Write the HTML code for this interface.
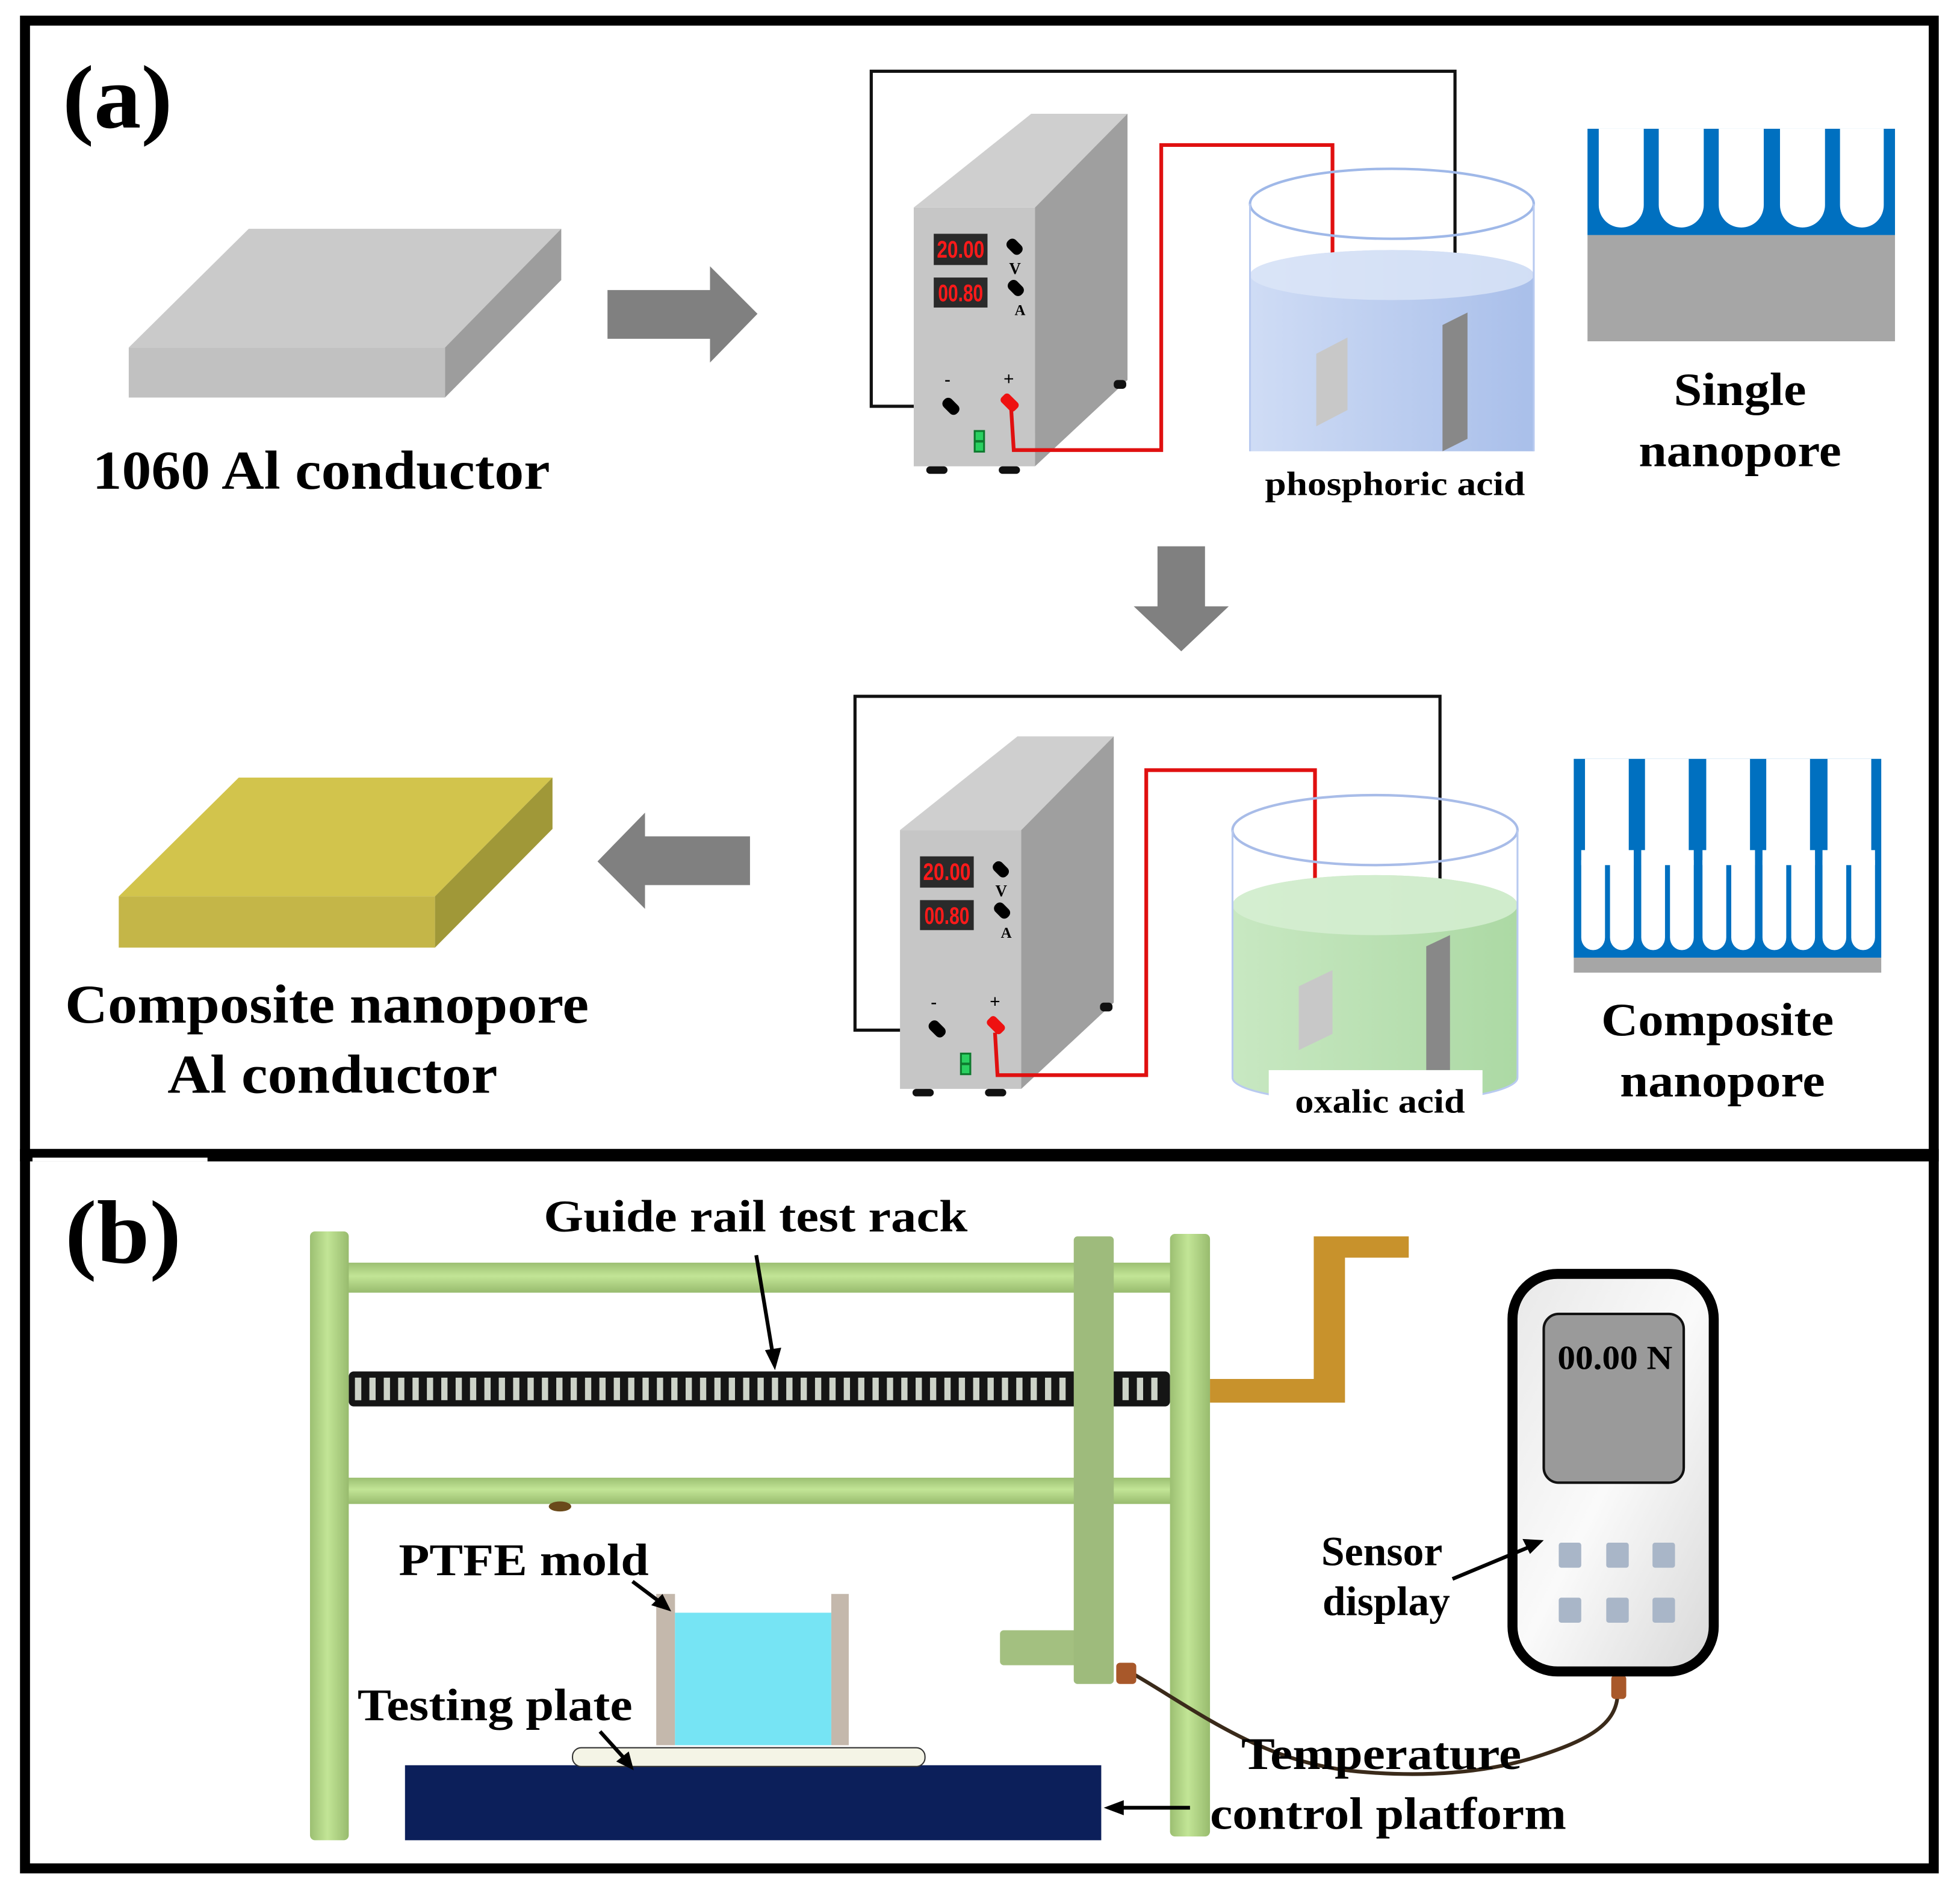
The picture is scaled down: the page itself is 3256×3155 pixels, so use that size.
<!DOCTYPE html>
<html><head><meta charset="utf-8"><style>
html,body{margin:0;padding:0;background:#fff}
svg{display:block}
text{font-family:"Liberation Serif",serif;font-weight:bold;fill:#000}
</style></head><body>
<svg width="3256" height="3155" viewBox="0 0 1568 1519" preserveAspectRatio="none" xmlns="http://www.w3.org/2000/svg">
<defs>
<linearGradient id="pv" x1="0" x2="1" y1="0" y2="0"><stop offset="0" stop-color="#9cbf72"/><stop offset="0.45" stop-color="#c2e596"/><stop offset="1" stop-color="#98bb6e"/></linearGradient>
<linearGradient id="ph" x1="0" x2="0" y1="0" y2="1"><stop offset="0" stop-color="#9cbf72"/><stop offset="0.45" stop-color="#c2e596"/><stop offset="1" stop-color="#98bb6e"/></linearGradient>
<linearGradient id="blue" x1="0" x2="1"><stop offset="0" stop-color="#cfdcf5"/><stop offset="1" stop-color="#a9bfea"/></linearGradient>
<linearGradient id="green" x1="0" x2="1"><stop offset="0" stop-color="#c8e8c2"/><stop offset="1" stop-color="#acd9a4"/></linearGradient>
<linearGradient id="dev" x1="0" x2="1" y1="0" y2="1"><stop offset="0" stop-color="#e8e8e8"/><stop offset="0.5" stop-color="#fafafa"/><stop offset="1" stop-color="#d8d8d8"/></linearGradient>
<g id="psu">
<polygon points="0,0 97,0 171,-75 94,-75" fill="#cfcfcf"/>
<rect x="0" y="0" width="97" height="207" fill="#c6c6c6"/>
<polygon points="97,0 171,-75 171,138 97,207" fill="#9f9f9f"/>
<rect x="16" y="21" width="43" height="25" fill="#2a2a2a"/>
<text x="37.5" y="40" font-size="19" text-anchor="middle" style="fill:#ff1a1a;font-family:'Liberation Sans Narrow','Liberation Sans',sans-serif" textLength="38" lengthAdjust="spacingAndGlyphs">20.00</text>
<rect x="16" y="56" width="43" height="24" fill="#2a2a2a"/>
<text x="37.5" y="75" font-size="19" text-anchor="middle" style="fill:#ff1a1a;font-family:'Liberation Sans Narrow','Liberation Sans',sans-serif" textLength="36" lengthAdjust="spacingAndGlyphs">00.80</text>
<rect x="74" y="27" width="14" height="9" rx="4" transform="rotate(45 81 31)" fill="#000"/>
<rect x="75" y="60" width="14" height="9" rx="4" transform="rotate(45 82 64)" fill="#000"/>
<text x="81" y="53" font-size="13" text-anchor="middle">V</text>
<text x="85" y="86" font-size="12" text-anchor="middle">A</text>
<text x="27" y="142" font-size="14" text-anchor="middle">-</text>
<text x="76" y="142" font-size="15" text-anchor="middle">+</text>
<rect x="22" y="154" width="15" height="9" rx="4" transform="rotate(45 29 159)" fill="#000"/>
<rect x="69" y="151" width="15" height="9" rx="3" transform="rotate(45 76 156)" fill="#ee1111"/>
<rect x="48" y="178" width="9" height="18" fill="#0e7a2e"/>
<rect x="49.5" y="179.5" width="6" height="6.5" fill="#2ad060"/>
<rect x="49.5" y="188" width="6" height="6.5" fill="#2ad060"/>
<rect x="10" y="207" width="17" height="6" rx="3" fill="#111"/>
<rect x="68" y="207" width="17" height="6" rx="3" fill="#111"/>
<rect x="160" y="138" width="10" height="7" rx="3" fill="#111"/>
</g>
</defs>
<rect width="1568" height="1519" fill="#fff"/>

<!-- frame -->
<rect x="20" y="16.5" width="1527" height="1478" fill="none" stroke="#000" stroke-width="8"/>
<rect x="16" y="919" width="1535" height="10" fill="#000"/>
<rect x="26" y="926" width="140" height="3" fill="#fff"/>

<!-- (a) -->
<text x="50" y="102" font-size="72" textLength="88" lengthAdjust="spacingAndGlyphs">(a)</text>

<!-- gray block -->
<polygon points="103,278 356,278 449,183 199,183" fill="#cacaca"/>
<rect x="103" y="278" width="253" height="40" fill="#c1c1c1"/>
<polygon points="356,278 449,183 449,224 356,318" fill="#9d9d9d"/>
<text x="74" y="391" font-size="44" textLength="366" lengthAdjust="spacingAndGlyphs">1060 Al conductor</text>

<!-- right arrow -->
<polygon points="486,232 568,232 568,213 606,251 568,290 568,271 486,271" fill="#808080"/>

<!-- circuit 1 -->
<polyline points="760,325 697,325 697,57 1164,57 1164,258" fill="none" stroke="#111" stroke-width="2.5"/>
<use href="#psu" x="731" y="166"/>
<polyline points="809,328 811,360 929,360 929,116 1066,116 1066,276" fill="none" stroke="#e01010" stroke-width="3"/>
<rect x="1000" y="163" width="227" height="198" fill="none"/>
<path d="M1000,220 A113.5,20 0 0 1 1227,220 V361 H1000 Z" fill="url(#blue)"/>
<ellipse cx="1113.5" cy="220" rx="113.5" ry="20" fill="#dce6f8" opacity="0.8"/>
<ellipse cx="1113.5" cy="163" rx="113.5" ry="28" fill="none" stroke="#9fb8e8" stroke-width="2"/>
<line x1="1000" y1="163" x2="1000" y2="361" stroke="#b8caf0" stroke-width="1.5"/>
<line x1="1227" y1="163" x2="1227" y2="361" stroke="#b8caf0" stroke-width="1.5"/>
<polygon points="1053,283 1078,270 1078,328 1053,341" fill="#c8c8c8"/>
<polygon points="1154,260 1174,250 1174,351 1154,361" fill="#888"/>
<text x="1116" y="396" font-size="27" text-anchor="middle" textLength="208" lengthAdjust="spacingAndGlyphs">phosphoric acid</text>

<!-- single nanopore -->
<rect x="1270" y="103" width="246" height="85" fill="#0070c0"/>
<rect x="1270" y="188" width="246" height="85" fill="#a6a6a6"/>
<g fill="#fff">
<path d="M1279,103 V164 A18,18 0 0 0 1315,164 V103 Z"/>
<path d="M1327,103 V164 A18,18 0 0 0 1363,164 V103 Z"/>
<path d="M1375,103 V164 A18,18 0 0 0 1411,164 V103 Z"/>
<path d="M1424,103 V164 A18,18 0 0 0 1460,164 V103 Z"/>
<path d="M1472,103 V164 A17.5,18 0 0 0 1507,164 V103 Z"/>
</g>
<text x="1392" y="324" font-size="37" text-anchor="middle" textLength="106" lengthAdjust="spacingAndGlyphs">Single</text>
<text x="1392" y="373" font-size="37" text-anchor="middle" textLength="162" lengthAdjust="spacingAndGlyphs">nanopore</text>

<!-- down arrow -->
<polygon points="926,437 964,437 964,485 983,485 945,521 907,485 926,485" fill="#808080"/>

<!-- gold block -->
<polygon points="95,717 348,717 442,622 191,622" fill="#d2c44c"/>
<rect x="95" y="717" width="253" height="41" fill="#c4b648"/>
<polygon points="348,717 442,622 442,663 348,758" fill="#a09838"/>
<text x="52" y="818" font-size="44" textLength="419" lengthAdjust="spacingAndGlyphs">Composite nanopore</text>
<text x="134" y="874" font-size="44" textLength="264" lengthAdjust="spacingAndGlyphs">Al conductor</text>

<!-- left arrow -->
<polygon points="600,669 516,669 516,650 478,689 516,727 516,708 600,708" fill="#808080"/>

<!-- circuit 2 -->
<polyline points="748,824 684,824 684,557 1152,557 1152,755" fill="none" stroke="#111" stroke-width="2.5"/>
<use href="#psu" x="720" y="664"/>
<polyline points="796,826 798,860 917,860 917,616 1052,616 1052,776" fill="none" stroke="#e01010" stroke-width="3"/>
<path d="M986,724 A114,24 0 0 1 1214,724 V862 A114,20 0 0 1 986,862 Z" fill="url(#green)"/>
<ellipse cx="1100" cy="724" rx="114" ry="24" fill="#d6eed2" opacity="0.85"/>
<ellipse cx="1100" cy="664" rx="114" ry="28" fill="none" stroke="#a8bce8" stroke-width="2"/>
<line x1="986" y1="664" x2="986" y2="862" stroke="#b8caf0" stroke-width="1.5"/>
<line x1="1214" y1="664" x2="1214" y2="862" stroke="#b8caf0" stroke-width="1.5"/>
<path d="M986,862 A114,20 0 0 0 1214,862" fill="none" stroke="#b8caf0" stroke-width="1.5"/>
<polygon points="1039,789 1066,776 1066,827 1039,840" fill="#c8c8c8"/>
<polygon points="1141,757 1160,748 1160,856 1141,856" fill="#888"/>
<rect x="1015" y="856" width="171" height="36" fill="#fff"/>
<text x="1104" y="890" font-size="27" text-anchor="middle" textLength="136" lengthAdjust="spacingAndGlyphs">oxalic acid</text>

<!-- composite nanopore -->
<rect x="1259" y="607" width="246" height="159" fill="#0070c0"/>
<rect x="1259" y="766" width="246" height="12" fill="#a6a6a6"/>
<g fill="#fff">
<rect x="1268" y="607" width="35" height="78"/>
<rect x="1316" y="607" width="35" height="78"/>
<rect x="1365" y="607" width="35" height="78"/>
<rect x="1413" y="607" width="35" height="78"/>
<rect x="1462" y="607" width="35" height="78"/>
<!-- chambers -->
<rect x="1265" y="680" width="42" height="12"/>
<rect x="1313" y="680" width="42" height="12"/>
<rect x="1362" y="680" width="42" height="12"/>
<rect x="1410" y="680" width="42" height="12"/>
<rect x="1458" y="680" width="42" height="12"/>
<!-- lower pores -->
<path d="M1265,688 V750 A9.5,10 0 0 0 1284,750 V688 Z"/>
<path d="M1288,688 V750 A9.5,10 0 0 0 1307,750 V688 Z"/>
<path d="M1313,688 V750 A9.5,10 0 0 0 1332,750 V688 Z"/>
<path d="M1336,688 V750 A9.5,10 0 0 0 1355,750 V688 Z"/>
<path d="M1362,688 V750 A9.5,10 0 0 0 1381,750 V688 Z"/>
<path d="M1385,688 V750 A9.5,10 0 0 0 1404,750 V688 Z"/>
<path d="M1410,688 V750 A9.5,10 0 0 0 1429,750 V688 Z"/>
<path d="M1433,688 V750 A9.5,10 0 0 0 1452,750 V688 Z"/>
<path d="M1458,688 V750 A9.5,10 0 0 0 1477,750 V688 Z"/>
<path d="M1481,688 V750 A9.5,10 0 0 0 1500,750 V688 Z"/>
</g>
<text x="1374" y="828" font-size="37" text-anchor="middle" textLength="186" lengthAdjust="spacingAndGlyphs">Composite</text>
<text x="1378" y="877" font-size="37" text-anchor="middle" textLength="164" lengthAdjust="spacingAndGlyphs">nanopore</text>

<!-- (b) -->
<text x="52" y="1010" font-size="72" textLength="93" lengthAdjust="spacingAndGlyphs">(b)</text>
<text x="435" y="985" font-size="36" textLength="339" lengthAdjust="spacingAndGlyphs">Guide rail test rack</text>

<!-- rails -->
<rect x="276" y="1010" width="664" height="24" fill="url(#ph)"/>
<rect x="276" y="1182" width="664" height="21" fill="url(#ph)"/>
<ellipse cx="448" cy="1205" rx="9" ry="4" fill="#6a4a1a"/>
<!-- screw rod -->
<rect x="279" y="1097" width="657" height="28" rx="4" fill="#151515"/>
<g fill="#d0d6cc">
<path d="M284,1102 h5 v18 h-5 z" id="t0"/>
</g>
<g id="teeth" fill="#cdd3c8"></g>
<path fill="#cdd3c8" d="
M284,1102h5v18h-5z M295.5,1102h5v18h-5z M307,1102h5v18h-5z M318.5,1102h5v18h-5z M330,1102h5v18h-5z M341.5,1102h5v18h-5z M353,1102h5v18h-5z M364.5,1102h5v18h-5z M376,1102h5v18h-5z M387.5,1102h5v18h-5z
M399,1102h5v18h-5z M410.5,1102h5v18h-5z M422,1102h5v18h-5z M433.5,1102h5v18h-5z M445,1102h5v18h-5z M456.5,1102h5v18h-5z M468,1102h5v18h-5z M479.5,1102h5v18h-5z M491,1102h5v18h-5z M502.5,1102h5v18h-5z
M514,1102h5v18h-5z M525.5,1102h5v18h-5z M537,1102h5v18h-5z M548.5,1102h5v18h-5z M560,1102h5v18h-5z M571.5,1102h5v18h-5z M583,1102h5v18h-5z M594.5,1102h5v18h-5z M606,1102h5v18h-5z M617.5,1102h5v18h-5z
M629,1102h5v18h-5z M640.5,1102h5v18h-5z M652,1102h5v18h-5z M663.5,1102h5v18h-5z M675,1102h5v18h-5z M686.5,1102h5v18h-5z M698,1102h5v18h-5z M709.5,1102h5v18h-5z M721,1102h5v18h-5z M732.5,1102h5v18h-5z
M744,1102h5v18h-5z M755.5,1102h5v18h-5z M767,1102h5v18h-5z M778.5,1102h5v18h-5z M790,1102h5v18h-5z M801.5,1102h5v18h-5z M813,1102h5v18h-5z M824.5,1102h5v18h-5z M836,1102h5v18h-5z M847.5,1102h5v18h-5z
M898,1102h5v18h-5z M909.5,1102h5v18h-5z M921,1102h5v18h-5z"/>
<!-- guide arrow -->
<line x1="605" y1="1004" x2="618" y2="1082" stroke="#000" stroke-width="3"/>
<polygon points="612,1080 625,1078 620,1096" fill="#000"/>

<!-- posts -->
<rect x="248" y="985" width="31" height="487" rx="4" fill="url(#pv)"/>
<rect x="936" y="987" width="32" height="482" rx="4" fill="url(#pv)"/>
<!-- crank -->
<path d="M968,1103 H1051 V989 H1127 V1006 H1076 V1122 H968 Z" fill="#c8922c"/>
<!-- slider plate -->
<rect x="800" y="1304" width="62" height="28" rx="3" fill="#a3c080"/>
<rect x="859" y="989" width="32" height="358" rx="3" fill="#9ebb7c"/>
<!-- cable -->
<path d="M905,1338 C960,1370 1010,1410 1086,1417 C1140,1422 1190,1418 1230,1405 C1270,1392 1292,1380 1294,1357" fill="none" stroke="#3a2a1a" stroke-width="3"/>
<rect x="893" y="1330" width="16" height="17" rx="3" fill="#a8582a"/>
<rect x="1289" y="1340" width="12" height="19" rx="3" fill="#a8582a"/>

<!-- PTFE mold -->
<rect x="525" y="1275" width="15" height="121" fill="#c4b8ac"/>
<rect x="665" y="1275" width="14" height="121" fill="#c4b8ac"/>
<rect x="540" y="1290" width="125" height="106" fill="#76e4f4"/>
<!-- platform -->
<rect x="324" y="1412" width="557" height="60" fill="#0c1f5a"/>
<rect x="458" y="1398" width="282" height="15" rx="7" fill="#f4f4e6" stroke="#333" stroke-width="1"/>

<text x="319" y="1260" font-size="36" textLength="200" lengthAdjust="spacingAndGlyphs">PTFE mold</text>
<line x1="506" y1="1265" x2="526" y2="1280" stroke="#000" stroke-width="3"/>
<polygon points="521,1284 530,1275 537,1289" fill="#000"/>
<text x="286" y="1376" font-size="36" textLength="220" lengthAdjust="spacingAndGlyphs">Testing plate</text>
<line x1="480" y1="1385" x2="499" y2="1406" stroke="#000" stroke-width="3"/>
<polygon points="493,1409 503,1401 507,1416" fill="#000"/>

<line x1="952" y1="1446" x2="897" y2="1446" stroke="#000" stroke-width="3"/>
<polygon points="899,1440 899,1452 883,1446" fill="#000"/>
<text x="993" y="1415" font-size="36" textLength="224" lengthAdjust="spacingAndGlyphs">Temperature</text>
<text x="968" y="1463" font-size="36" textLength="285" lengthAdjust="spacingAndGlyphs">control platform</text>

<!-- device -->
<rect x="1210" y="1019" width="161" height="318" rx="36" fill="url(#dev)" stroke="#000" stroke-width="8"/>
<rect x="1235" y="1051" width="112" height="135" rx="12" fill="#9a9a9a" stroke="#111" stroke-width="2"/>
<text x="1292" y="1095" font-size="27" text-anchor="middle" textLength="92" lengthAdjust="spacingAndGlyphs">00.00 N</text>
<g fill="#a9b6c8">
<rect x="1247" y="1234" width="18" height="20" rx="2"/>
<rect x="1285" y="1234" width="18" height="20" rx="2"/>
<rect x="1322" y="1234" width="18" height="20" rx="2"/>
<rect x="1247" y="1278" width="18" height="20" rx="2"/>
<rect x="1285" y="1278" width="18" height="20" rx="2"/>
<rect x="1322" y="1278" width="18" height="20" rx="2"/>
</g>
<text x="1057" y="1252" font-size="33" textLength="97" lengthAdjust="spacingAndGlyphs">Sensor</text>
<text x="1058" y="1292" font-size="33" textLength="102" lengthAdjust="spacingAndGlyphs">display</text>
<line x1="1162" y1="1263" x2="1222" y2="1238" stroke="#000" stroke-width="3"/>
<polygon points="1218,1231 1224,1243 1235,1232" fill="#000"/>
</svg>
</body></html>
